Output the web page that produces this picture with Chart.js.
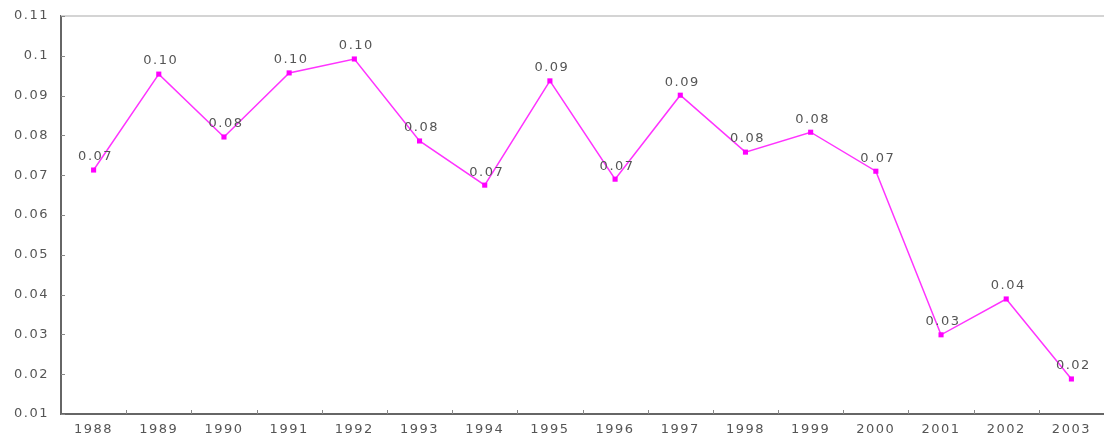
<!DOCTYPE html>
<html>
<head>
<meta charset="utf-8">
<script src="https://cdn.jsdelivr.net/npm/chart.js@4/dist/chart.umd.min.js"></script>
<style>
  html, body { margin: 0; padding: 0; background: #fff; overflow: hidden; }
  #wrap { width: 1108px; height: 438px; }
</style>
</head>
<body>
<div id="wrap"><canvas id="myChart" width="1108" height="438"></canvas></div>
<script>
const years = ["1988", "1989", "1990", "1991", "1992", "1993", "1994", "1995",
               "1996", "1997", "1998", "1999", "2000", "2001", "2002", "2003"];
const values = [0.0713, 0.0954, 0.0796, 0.0957, 0.0992, 0.0786, 0.0675, 0.0937,
                0.0690, 0.0901, 0.0758, 0.0808, 0.0710, 0.0299, 0.0389, 0.0188];
const yTicks = [0.01, 0.02, 0.03, 0.04, 0.05, 0.06, 0.07, 0.08, 0.09, 0.1, 0.11];

const textColor = "#555";
const font = { family: "DejaVu Sans", size: 13, lineHeight: 1 };

// labels over each point + small inner tick marks, like the old excel chart
const extras = {
    id: "extras",
    beforeDraw(chart) {
        chart.ctx.letterSpacing = "1.5px";
    },
    afterDatasetsDraw(chart) {
        const ctx = chart.ctx;
        const area = chart.chartArea;
        const xs = chart.scales.x;
        const ys = chart.scales.y;
        ctx.save();

        // top border
        ctx.strokeStyle = "#d4d4d4";
        ctx.lineWidth = 2;
        ctx.beginPath();
        ctx.moveTo(area.left, area.top);
        ctx.lineTo(area.right, area.top);
        ctx.stroke();

        // inner ticks
        ctx.strokeStyle = "#888";
        ctx.lineWidth = 1;
        ctx.beginPath();
        yTicks.forEach(function (v) {
            const y = Math.round(ys.getPixelForValue(v)) + 0.5;
            ctx.moveTo(area.left, y);
            ctx.lineTo(area.left + 4, y);
        });
        for (let i = 0; i < years.length - 1; i++) {
            const x = Math.round((xs.getPixelForValue(i) + xs.getPixelForValue(i + 1)) / 2) + 0.5;
            ctx.moveTo(x, area.bottom);
            ctx.lineTo(x, area.bottom - 4);
        }
        ctx.stroke();

        // value labels
        const meta = chart.getDatasetMeta(0);
        ctx.fillStyle = textColor;
        ctx.font = font.size + "px " + font.family;
        ctx.letterSpacing = "1.5px";
        ctx.textAlign = "center";
        ctx.textBaseline = "middle";
        meta.data.forEach(function (pt, i) {
            ctx.fillText(values[i].toFixed(2), pt.x + 2, pt.y - 13);
        });
        ctx.restore();
    }
};

new Chart(document.getElementById("myChart"), {
    type: "line",
    data: {
        labels: years,
        datasets: [{
            data: values,
            borderColor: "#ff33ff",
            borderWidth: 1.5,
            backgroundColor: "#ff00ff",
            pointStyle: "rect",
            pointRadius: 3.6,
            pointBorderWidth: 0,
            pointBackgroundColor: "#ff00ff",
            tension: 0
        }]
    },
    options: {
        responsive: false,
        animation: false,
        layout: { padding: { top: 16, right: 0, left: 0, bottom: 0 } },
        plugins: {
            legend: { display: false },
            tooltip: { enabled: false }
        },
        scales: {
            x: {
                offset: true,
                grid: { display: false, drawTicks: false },
                border: { display: true, color: "#666", width: 2 },
                ticks: { color: textColor, font: font, padding: 9, maxRotation: 0, autoSkip: false },
                afterFit: function (scale) { scale.height = 24; }
            },
            y: {
                min: 0.01,
                max: 0.11,
                afterBuildTicks: function (scale) {
                    scale.ticks = yTicks.map(function (v) { return { value: v }; });
                },
                grid: { display: false, drawTicks: false },
                border: { display: true, color: "#666", width: 2 },
                ticks: {
                    color: textColor,
                    font: font,
                    padding: 12,
                    callback: function (v) { return String(Number(v.toFixed(2))); }
                },
                afterFit: function (scale) {
                    scale.width = 61;
                    scale.paddingTop = 0;
                    scale.paddingBottom = 0;
                }
            }
        }
    },
    plugins: [extras]
});
</script>
</body>
</html>
